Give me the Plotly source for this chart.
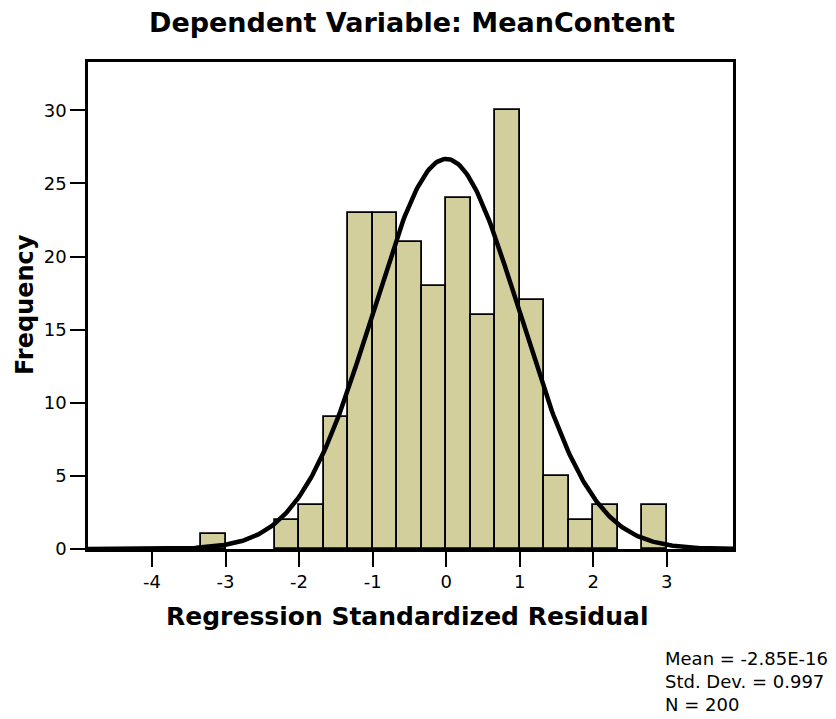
import numpy as np
import plotly.graph_objects as go

# Histogram data (bins of width 1/3 starting at -10/3)
bin_start = -10 / 3
bin_width = 1 / 3
counts = [1, 0, 0, 2, 3, 9, 23, 23, 21, 18, 24, 16, 30, 17, 5, 2, 3, 0, 3]

# Summary statistics shown in the chart
mean_val = -2.85e-16
std_val = 0.997
n_val = 200

x_ticks = [-4, -3, -2, -1, 0, 1, 2, 3]
y_ticks = [0, 5, 10, 15, 20, 25, 30]

title_text = "Dependent Variable: MeanContent"
x_title = "Regression Standardized Residual"
y_title = "Frequency"
stat_labels = ["Mean = -2.85E-16", "Std. Dev. = 0.997", "N = %d" % n_val]

centers = [bin_start + (i + 0.5) * bin_width for i in range(len(counts))]
bx = [c for c, v in zip(centers, counts) if v > 0]
by = [v for v in counts if v > 0]

xr = [-4.87, 3.90]
xs = np.linspace(xr[0], xr[1], 400)
ys = n_val * bin_width / (std_val * np.sqrt(2 * np.pi)) * np.exp(-0.5 * ((xs - mean_val) / std_val) ** 2)

fig = go.Figure()
fig.add_trace(go.Bar(x=bx, y=by, width=bin_width,
                     marker=dict(color="#D3CF9C", line=dict(color="black", width=1.8)),
                     showlegend=False, hoverinfo="skip"))
fig.add_trace(go.Scatter(x=xs, y=ys, mode="lines", line=dict(color="black", width=4.5),
                         showlegend=False, hoverinfo="skip"))

font = "DejaVu Sans, Liberation Sans, Arial, sans-serif"
# page body has an 8px margin; figure is sized/placed accordingly
W, H = 828, 711
L, R, T, B = 80, 103, 54, 170
pw, ph = W - L - R, H - T - B

fig.update_layout(
    width=W, height=H,
    paper_bgcolor="white", plot_bgcolor="white",
    margin=dict(l=L, r=R, t=T, b=B),
    font=dict(family=font, color="black", size=18),
    bargap=0,
)
fig.update_xaxes(range=xr, tickvals=x_ticks, ticktext=[str(t) for t in x_ticks],
                 ticks="outside", ticklen=15, tickwidth=2, tickcolor="black",
                 showline=True, linewidth=2.5, linecolor="black", mirror=True,
                 showgrid=False, zeroline=False, tickfont=dict(size=18))
fig.update_yaxes(range=[0, 33.3], tickvals=y_ticks,
                 ticks="outside", ticklen=15, tickwidth=2, tickcolor="black",
                 showline=True, linewidth=2.5, linecolor="black", mirror=True,
                 showgrid=False, zeroline=False, tickfont=dict(size=18))

# Title
fig.add_annotation(text="<b>%s</b>" % title_text, xref="paper", yref="paper",
                   x=(404 - L) / pw, y=1 + (T - 14) / ph, xanchor="center", yanchor="middle",
                   showarrow=False, font=dict(size=27, family=font))
# X axis title
fig.add_annotation(text="<b>%s</b>" % x_title, xref="paper", yref="paper",
                   x=(398.5 - L) / pw, y=-67 / ph, xanchor="center", yanchor="middle",
                   showarrow=False, font=dict(size=25, family=font))
# Y axis title
fig.add_annotation(text="<b>%s</b>" % y_title, xref="paper", yref="paper",
                   x=-(L - 17) / pw, y=(T + ph - 297) / ph, xanchor="center", yanchor="middle",
                   textangle=-90, showarrow=False, font=dict(size=24, family=font))

for i, t in enumerate(stat_labels):
    fig.add_annotation(text=t, xref="paper", yref="paper",
                       x=(655 - L) / pw, y=-(650 + 23 * i - (T + ph)) / ph,
                       xanchor="left", yanchor="middle", showarrow=False,
                       font=dict(size=18, family=font))

fig.write_html("out.html")
